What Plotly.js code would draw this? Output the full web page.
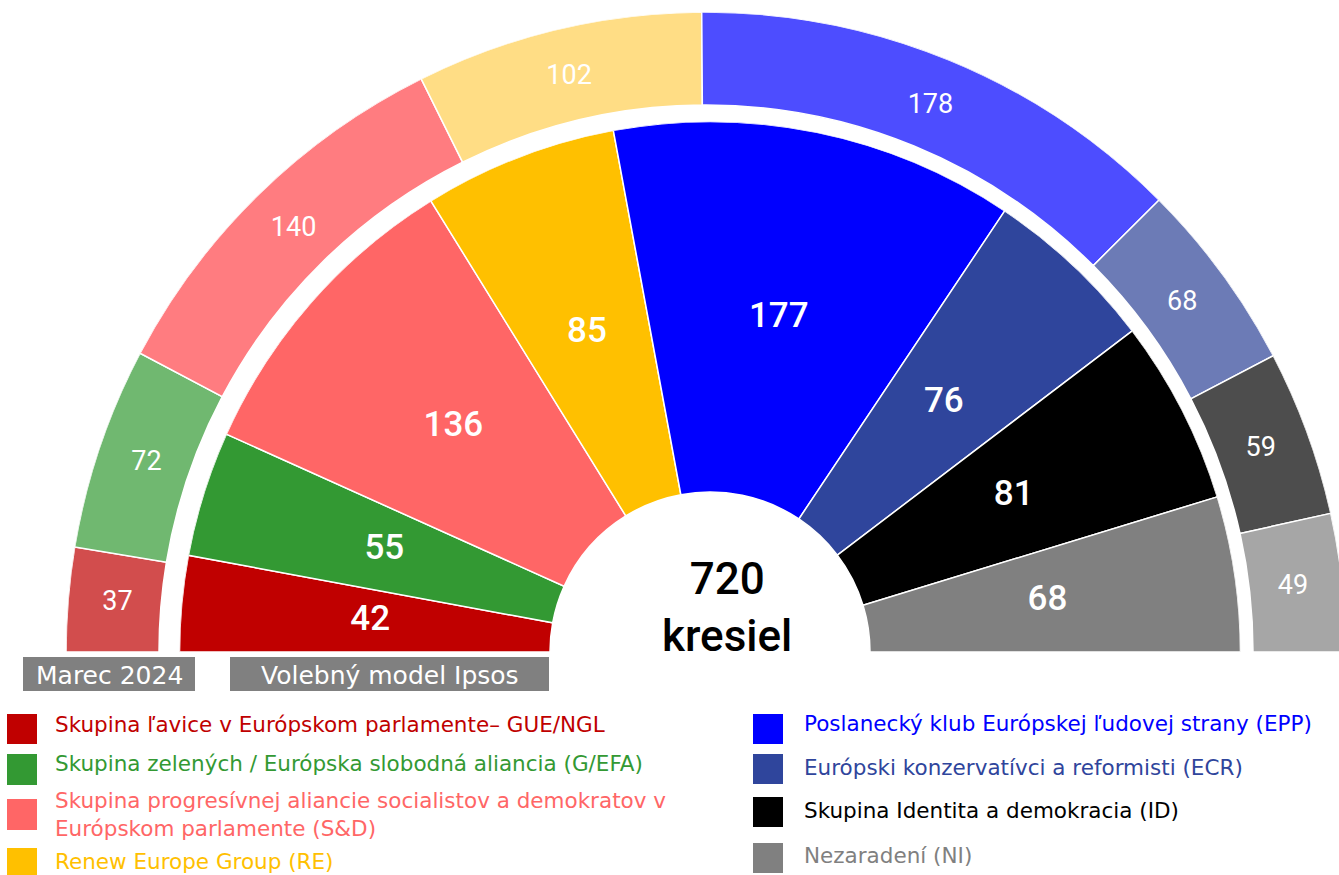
<!DOCTYPE html>
<html>
<head>
<meta charset="utf-8">
<script src="https://cdn.plot.ly/plotly-3.0.1.min.js"></script>
<style>
html, body { margin: 0; padding: 0; overflow: hidden; background: #fff; }
#chart { width: 1346px; height: 875px; }
</style>
</head>
<body>
<div id="chart"></div>
<script>
// ---- data ----
const parties = ['GUE/NGL', 'G/EFA', 'S&D', 'RE', 'EPP', 'ECR', 'ID', 'NI'];
const seatsMarch2024 = [37, 72, 140, 102, 178, 68, 59, 49];
const seatsIpsos = [42, 55, 136, 85, 177, 76, 81, 68];
const colorsIpsos = ['#C00000', '#339933', '#FF6666', '#FFC000', '#0000FF', '#2F459C', '#000000', '#808080'];
const colorsMarch = ['#D24D4D', '#70B870', '#FF7C80', '#FFDD85', '#4D4DFF', '#6C7BB6', '#4D4D4D', '#A6A6A6'];
const legendLabels = [
  'Skupina ľavice v Európskom parlamente– GUE/NGL',
  'Skupina zelených / Európska slobodná aliancia (G/EFA)',
  'Skupina progresívnej aliancie socialistov a demokratov v<br>Európskom parlamente (S&D)',
  'Renew Europe Group (RE)',
  'Poslanecký klub Európskej ľudovej strany (EPP)',
  'Európski konzervatívci a reformisti (ECR)',
  'Skupina Identita a demokracia (ID)',
  'Nezaradení (NI)'
];
const ringLabels = ['Marec 2024', 'Volebný model Ipsos'];
const totalSeatsText = '720<br>kresiel';

// ---- geometry helpers ----
const W = 1346, H = 875;
const px = x => x / W;
const py = y => (H - y) / H;

function angles(vals) {
  const tot = vals.reduce((a, b) => a + b, 0);
  let cum = 0;
  const theta = [], width = [];
  vals.forEach(v => {
    theta.push((cum + v / 2) / tot * 180);
    width.push(v / tot * 180);
    cum += v;
  });
  return { theta, width };
}

const aM = angles(seatsMarch2024);
const aI = angles(seatsIpsos);

// radial units = px
const outerR = 640, outerIn = 547;
const innerR = 530.5, innerIn = 160;

const traces = [
  {
    type: 'barpolar', subplot: 'polar',
    theta: aM.theta, width: aM.width,
    r: seatsMarch2024.map(() => outerR - outerIn),
    base: seatsMarch2024.map(() => outerIn),
    marker: { color: colorsMarch, line: { color: '#ffffff', width: 1.5 } },
    hovertext: parties, hoverinfo: 'text', showlegend: false
  },
  {
    type: 'scatterpolar', subplot: 'polar', mode: 'text',
    theta: aM.theta, r: seatsMarch2024.map(() => (outerR + outerIn) / 2 - 3),
    text: seatsMarch2024.map(String),
    textfont: { family: 'Roboto, sans-serif', size: 27, color: '#ffffff' },
    hoverinfo: 'skip', showlegend: false, cliponaxis: false
  },
  {
    type: 'barpolar', subplot: 'polar2',
    theta: aI.theta, width: aI.width,
    r: seatsIpsos.map(() => innerR - innerIn),
    base: seatsIpsos.map(() => innerIn),
    marker: { color: colorsIpsos, line: { color: '#ffffff', width: 1.5 } },
    hovertext: parties, hoverinfo: 'text', showlegend: false
  },
  {
    type: 'scatterpolar', subplot: 'polar2', mode: 'text',
    theta: aI.theta, r: seatsIpsos.map(() => (innerR + innerIn) / 2 - 4),
    text: seatsIpsos.map(String),
    textfont: { family: 'Roboto, sans-serif', size: 35, color: '#ffffff', weight: 500 },
    textposition: 'middle center',
    hoverinfo: 'skip', showlegend: false, cliponaxis: false
  }
];

const polarCommon = (range) => ({
  sector: [0, 180],
  bgcolor: 'rgba(0,0,0,0)',
  angularaxis: { visible: false, rotation: 180, direction: 'clockwise', showgrid: false, showline: false },
  radialaxis: { visible: false, range: range, showgrid: false, showline: false }
});

const polar = Object.assign(polarCommon([0, outerR]), {
  domain: { x: [px(66), px(1346)], y: [py(652), py(652 - outerR)] }
});
const polar2 = Object.assign(polarCommon([0, innerR]), {
  domain: { x: [px(710 - innerR), px(710 + innerR)], y: [py(652), py(652 - innerR)] }
});

const shapes = [];
const annotations = [];

// ring label boxes
const boxes = [
  { x0: 23, x1: 195, text: ringLabels[0] },
  { x0: 230, x1: 549, text: ringLabels[1] }
];
boxes.forEach(b => {
  shapes.push({ type: 'rect', xref: 'paper', yref: 'paper', x0: px(b.x0), x1: px(b.x1), y0: py(691), y1: py(657),
    fillcolor: '#808080', line: { width: 0 } });
  annotations.push({ xref: 'paper', yref: 'paper', x: px((b.x0 + b.x1) / 2), y: py(675), xanchor: 'center', yanchor: 'middle',
    text: b.text, showarrow: false, font: { family: '"DejaVu Sans", sans-serif', size: 25, color: '#ffffff' } });
});

// center text
annotations.push({ xref: 'paper', yref: 'paper', x: px(727), y: py(607), xanchor: 'center', yanchor: 'middle',
  text: totalSeatsText, showarrow: false, font: { family: 'Roboto, sans-serif', size: 44, color: '#000000', weight: 500 } });

// legend
const legendRows = [
  { sq: [714, 744], ty: 724 },
  { sq: [754, 785], ty: 763 },
  { sq: [799, 830], ty: 814 },
  { sq: [848, 878], ty: 861 },
  { sq: [714, 744], ty: 723 },
  { sq: [754, 784], ty: 767 },
  { sq: [797, 827], ty: 810 },
  { sq: [843, 873], ty: 855 }
];
legendLabels.forEach((lab, i) => {
  const col = i < 4 ? 0 : 1;
  const sx = col === 0 ? 7 : 753;
  const tx = col === 0 ? 53 : 802;
  const row = legendRows[i];
  shapes.push({ type: 'rect', xref: 'paper', yref: 'paper', x0: px(sx), x1: px(sx + 30), y0: py(row.sq[1]), y1: py(row.sq[0]),
    fillcolor: colorsIpsos[i], line: { width: 0 } });
  annotations.push({ xref: 'paper', yref: 'paper', x: px(tx), y: py(row.ty), xanchor: 'left', yanchor: 'middle', align: 'left',
    text: lab, showarrow: false, font: { family: '"DejaVu Sans", sans-serif', size: 21.5, color: colorsIpsos[i] } });
});

const layout = {
  width: W, height: H,
  margin: { l: 0, r: 0, t: 0, b: 0 },
  paper_bgcolor: '#ffffff',
  showlegend: false,
  polar: polar,
  polar2: polar2,
  shapes: shapes,
  annotations: annotations
};

Plotly.newPlot('chart', traces, layout, { displayModeBar: false, staticPlot: true });
</script>
</body>
</html>
